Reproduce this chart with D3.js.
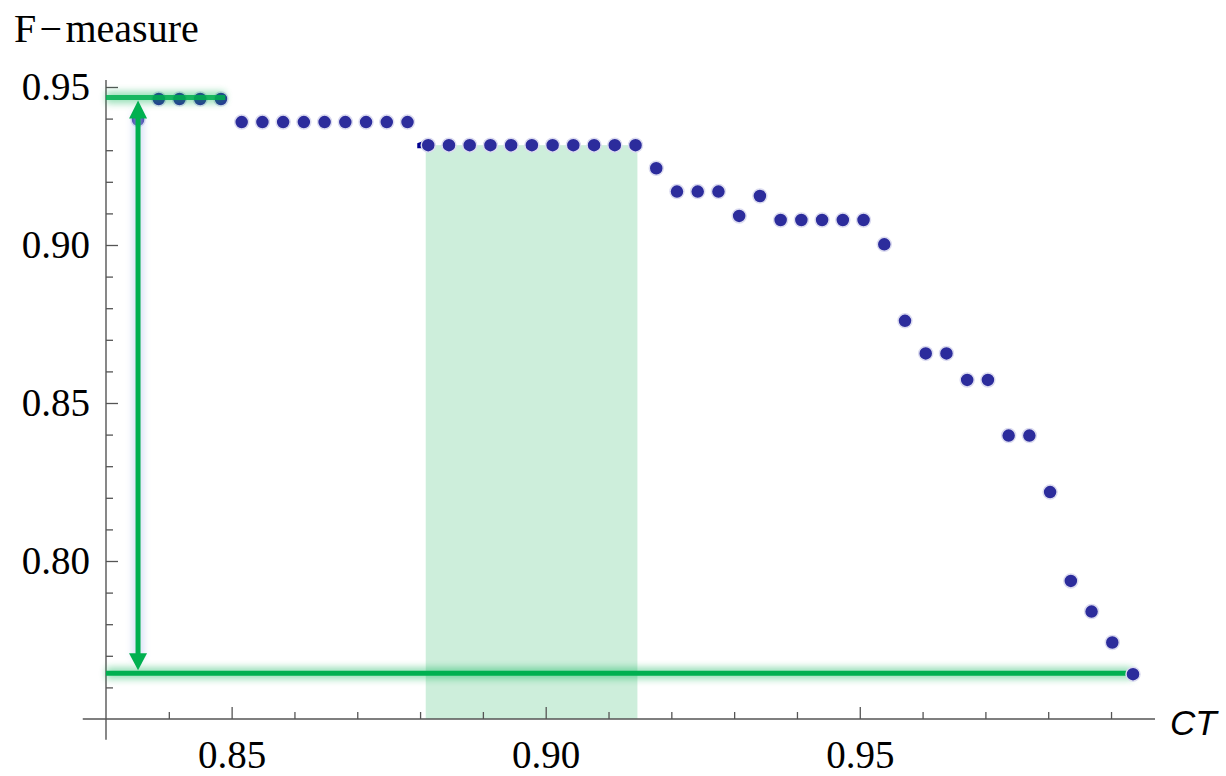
<!DOCTYPE html>
<html>
<head>
<meta charset="utf-8">
<script src="https://d3js.org/d3.v7.min.js"></script>
<style>
  body { margin: 0; background: #fff; }
  .tick text { font-family: "Liberation Serif", "Times New Roman", serif; font-size: 39px; fill: #000; }
  .tick line { stroke: #555; stroke-width: 1.3; }
</style>
</head>
<body>
<script>
// CT thresholds and F-measure
var ct = [0.8351, 0.8384, 0.8417, 0.8450, 0.8483, 0.8516, 0.8549, 0.8582, 0.8615, 0.8648,
          0.8681, 0.8714, 0.8747, 0.8780, 0.8813, 0.8846, 0.8879, 0.8912, 0.8945, 0.8978,
          0.9011, 0.9044, 0.9077, 0.9110, 0.9143, 0.9176, 0.9209, 0.9242, 0.9275, 0.9308,
          0.9341, 0.9374, 0.9407, 0.9440, 0.9473, 0.9506, 0.9539, 0.9572, 0.9605, 0.9638,
          0.9671, 0.9704, 0.9737, 0.9770, 0.9803, 0.9836, 0.9869, 0.9902, 0.9935];
var fm = [0.9396, 0.9462, 0.9462, 0.9462, 0.9462, 0.9389, 0.9389, 0.9389, 0.9389, 0.9389,
          0.9389, 0.9389, 0.9389, 0.9389, 0.9316, 0.9316, 0.9316, 0.9316, 0.9316, 0.9316,
          0.9316, 0.9316, 0.9316, 0.9316, 0.9316, 0.9243, 0.9169, 0.9169, 0.9169, 0.9092,
          0.9155, 0.9079, 0.9079, 0.9079, 0.9079, 0.9079, 0.9002, 0.8760, 0.8657, 0.8657,
          0.8573, 0.8573, 0.8397, 0.8397, 0.8218, 0.7937, 0.7840, 0.7742, 0.7642];

var xMajor = [0.85, 0.90, 0.95];
var xMinor = [0.84, 0.86, 0.87, 0.88, 0.89, 0.91, 0.92, 0.93, 0.94, 0.96, 0.97, 0.98, 0.99];
var yMajor = [0.80, 0.85, 0.90, 0.95];
var yMinor = [0.76, 0.77, 0.78, 0.79, 0.81, 0.82, 0.83, 0.84, 0.86, 0.87, 0.88, 0.89,
              0.91, 0.92, 0.93, 0.94];

// annotations
var band = [0.8809, 0.9146];   // shaded CT range
var bandTop = 0.9316;
var maxF = 0.9467, minF = 0.7645;
var maxLineEnd = 0.8490;

var width = 1226, height = 776;

var x = d3.scaleLinear().domain([0.83, 0.997]).range([106, 1155]);
var y = d3.scaleLinear().domain([0.75, 0.95]).range([719, 87]);

var svg = d3.select("body").append("svg")
    .attr("width", width)
    .attr("height", height);

// blur filters in user space (lines have a zero-height bbox)
var defs = svg.append("defs");
defs.append("filter").attr("id", "glow").attr("filterUnits", "userSpaceOnUse")
    .attr("x", 0).attr("y", 0).attr("width", width).attr("height", height)
  .append("feGaussianBlur").attr("stdDeviation", 3.5);
defs.append("filter").attr("id", "glowv").attr("filterUnits", "userSpaceOnUse")
    .attr("x", 0).attr("y", 0).attr("width", width).attr("height", height)
  .append("feGaussianBlur").attr("stdDeviation", 3);

var green = "#00b050";

// shaded band
svg.append("rect")
    .attr("x", x(band[0]))
    .attr("y", y(bandTop))
    .attr("width", x(band[1]) - x(band[0]))
    .attr("height", y(0.75) - y(bandTop))
    .attr("fill", "#cdeedb");

// axes
var yAxisMajor = d3.axisLeft(y).tickValues(yMajor).tickSize(-12).tickPadding(16)
    .tickFormat(d3.format(".2f"));
var yAxisMinor = d3.axisLeft(y).tickValues(yMinor).tickSize(-7).tickFormat("");
var xAxisMajor = d3.axisBottom(x).tickValues(xMajor).tickSize(-12)
    .tickFormat(d3.format(".2f"));
var xAxisMinor = d3.axisBottom(x).tickValues(xMinor).tickSize(-7).tickFormat("");

svg.append("g").attr("transform", "translate(106,0)").call(yAxisMinor);
svg.append("g").attr("transform", "translate(106,0)").call(yAxisMajor);
svg.append("g").attr("transform", "translate(0,719)").call(xAxisMinor);
var gx = svg.append("g").attr("transform", "translate(0,719)").call(xAxisMajor);
gx.selectAll("text").attr("y", 49).attr("dy", null);
svg.selectAll(".domain").remove();

svg.append("line")
    .attr("x1", x(0.83)).attr("x2", x(0.83))
    .attr("y1", y(0.9522)).attr("y2", y(0.7434))
    .attr("stroke", "#555").attr("stroke-width", 1.4);
svg.append("line")
    .attr("x1", x(0.8263)).attr("x2", x(0.997))
    .attr("y1", y(0.75)).attr("y2", y(0.75))
    .attr("stroke", "#555").attr("stroke-width", 1.4);

// axis labels
svg.append("text")
    .attr("x", 14).attr("y", 42)
    .style("font-family", "'Liberation Serif', 'Times New Roman', serif")
    .style("font-size", "40px")
    .text("F\u200a\u2212\u200ameasure");
svg.append("text")
    .attr("x", 1170).attr("y", 735)
    .style("font-family", "'Liberation Sans', Arial, sans-serif")
    .style("font-size", "35px")
    .style("font-style", "italic")
    .text("CT");

function glowLine(x1, x2, yv, op) {
  svg.append("line")
      .attr("x1", x1).attr("x2", x2).attr("y1", yv).attr("y2", yv)
      .attr("stroke", green).attr("stroke-width", 12).attr("opacity", 0.4)
      .attr("filter", "url(#glow)");
  svg.append("line")
      .attr("x1", x1).attr("x2", x2).attr("y1", yv).attr("y2", yv)
      .attr("stroke", green).attr("stroke-width", 5).attr("opacity", op);
}

// bottom (min) line, drawn under the points
glowLine(x(0.83), x(ct[ct.length - 1]), y(minF), 1);

// small artefact mark at the start of the band row
var mx = x(ct[14]), my = y(fm[14]);
svg.append("path")
    .attr("d", "M" + (mx - 11) + "," + (my - 2) + "L" + (mx - 3) + "," + (my - 5) +
               "L" + (mx) + "," + (my + 3) + "L" + (mx - 11) + "," + (my + 3) + "Z")
    .attr("fill", "#000090");

// points
var pts = ct.map(function(d, i) { return {ct: d, f: fm[i]}; });
svg.append("g").selectAll("circle")
    .data(pts)
  .enter().append("circle")
    .attr("cx", function(d) { return x(d.ct); })
    .attr("cy", function(d) { return y(d.f); })
    .attr("r", 7)
    .attr("fill", "#2c2c9c")
    .attr("stroke", "#dcdcf0")
    .attr("stroke-width", 1.5);

// top (max) line over the points
glowLine(x(0.83), x(maxLineEnd), y(maxF), 0.85);

// double arrow between max and min
var ax = x(ct[0]);
var yTop = y(maxF) + 3, yBot = y(minF) - 3;
svg.append("line")
    .attr("x1", ax).attr("x2", ax).attr("y1", yTop + 10).attr("y2", yBot - 10)
    .attr("stroke", "#b8c8f0").attr("stroke-width", 12).attr("opacity", 0.5)
    .attr("filter", "url(#glowv)");
svg.append("line")
    .attr("x1", ax).attr("x2", ax).attr("y1", yTop + 12).attr("y2", yBot - 12)
    .attr("stroke", green).attr("stroke-width", 5);
svg.append("path")
    .attr("d", "M" + ax + "," + yTop + "L" + (ax - 9) + "," + (yTop + 18) + "L" + (ax + 9) + "," + (yTop + 18) + "Z")
    .attr("fill", green);
svg.append("path")
    .attr("d", "M" + ax + "," + yBot + "L" + (ax - 9) + "," + (yBot - 17) + "L" + (ax + 9) + "," + (yBot - 17) + "Z")
    .attr("fill", green);
</script>
</body>
</html>
